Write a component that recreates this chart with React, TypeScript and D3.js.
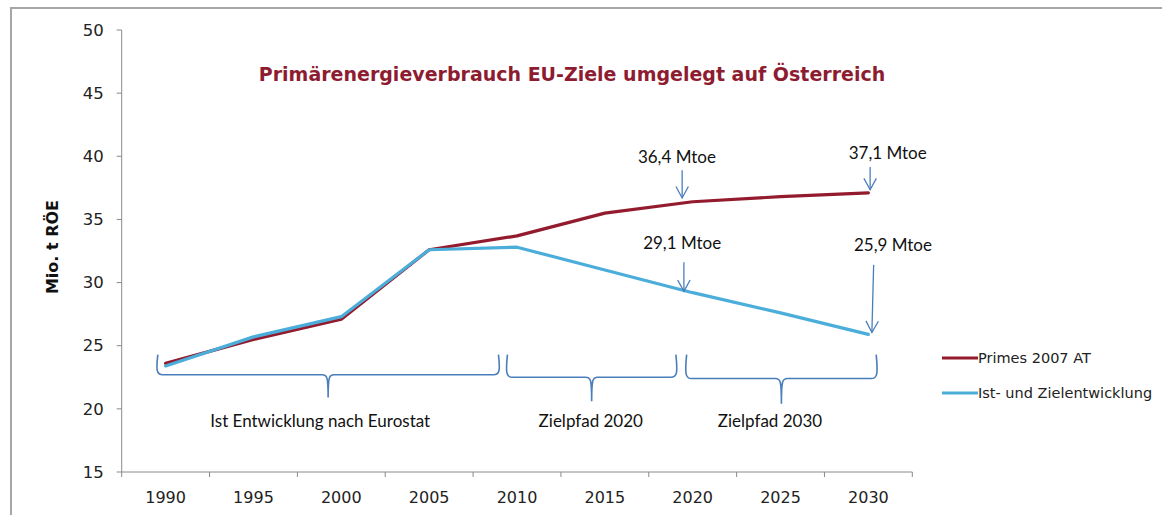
import React from 'react';
import * as d3 from 'd3';

// years on the category axis
const years = ['1990', '1995', '2000', '2005', '2010', '2015', '2020', '2025', '2030'];
// Primes 2007 AT, Mtoe
const primes = [23.6, 25.5, 27.1, 32.6, 33.7, 35.5, 36.4, 36.8, 37.1];
// Ist- und Zielentwicklung, Mtoe
const istZiel = [23.4, 25.7, 27.3, 32.6, 32.8, 31.0, 29.2, 27.6, 25.9];
const yTicks = [15, 20, 25, 30, 35, 40, 45, 50];

// curly braces below the lines (year span, value of hooks / bar / tip)
const braces = [
  { from: 1989.5, to: 2009.0, top: 24.3, bar: 22.7, tip: 20.9, label: 'Ist Entwicklung nach Eurostat', labelAt: 1998.8 },
  { from: 2009.4, to: 2019.1, top: 24.3, bar: 22.5, tip: 20.6, label: 'Zielpfad 2020', labelAt: 2014.2 },
  { from: 2019.6, to: 2030.5, top: 24.3, bar: 22.4, tip: 20.4, label: 'Zielpfad 2030', labelAt: 2024.4 },
];
const braceLabelValue = 18.6;

// arrow call-outs
const callouts = [
  { text: '36,4 Mtoe', tx: 2019.1, ty: 39.45, x1: 2019.4, y1: 38.9, x2: 2019.4, y2: 36.7 },
  { text: '37,1 Mtoe', tx: 2031.1, ty: 39.8, x1: 2030.1, y1: 39.15, x2: 2030.1, y2: 37.35 },
  { text: '29,1 Mtoe', tx: 2019.4, ty: 32.65, x1: 2019.5, y1: 31.6, x2: 2019.5, y2: 29.3 },
  { text: '25,9 Mtoe', tx: 2031.4, ty: 32.5, x1: 2030.3, y1: 31.4, x2: 2030.2, y2: 26.05 },
];

const series = [
  { name: 'Primes 2007 AT', values: primes, color: '#931b2d' },
  { name: 'Ist- und Zielentwicklung', values: istZiel, color: '#4badda' },
];

const W = 1162;
const H = 515;
const left = 121.7;
const right = 912.3;
const top = 30;
const bottom = 472;

const axisColor = '#8a8a8a';
const annoColor = '#4a7ebb';

const App = () => {
  const x = d3.scaleBand().domain(years).range([left, right]).paddingInner(0).paddingOuter(0);
  const y = d3.scaleLinear().domain([15, 50]).range([bottom, top]);
  const step = x.bandwidth();
  // continuous year scale aligned to category centres, for annotations
  const xYear = d3.scaleLinear()
    .domain([1990, 2030])
    .range([x('1990')! + step / 2, x('2030')! + step / 2]);

  const line = d3.line<number>()
    .x((d, i) => x(years[i])! + step / 2)
    .y(d => y(d));

  const bracePath = (b: typeof braces[0]) => {
    const x0 = xYear(b.from), x1 = xYear(b.to), xm = (x0 + x1) / 2;
    const yt = y(b.top), yb = y(b.bar), yp = y(b.tip);
    const r = 6;
    return `M${x0 + 1},${yt} C${x0 - 1},${yb - 4} ${x0},${yb} ${x0 + r},${yb}` +
      ` H${xm - r} C${xm - 1},${yb} ${xm},${yb + 2} ${xm},${yp}` +
      ` C${xm},${yb + 2} ${xm + 1},${yb} ${xm + r},${yb}` +
      ` H${x1 - r} C${x1},${yb} ${x1 + 1},${yb - 4} ${x1 - 1},${yt}`;
  };

  const arrowHead = (c: typeof callouts[0]) => {
    const ax = xYear(c.x2), ay = y(c.y2);
    const bx = xYear(c.x1), by = y(c.y1);
    const ang = Math.atan2(ay - by, ax - bx);
    const len = 13, spread = 0.5;
    const p1 = [ax - len * Math.cos(ang - spread), ay - len * Math.sin(ang - spread)];
    const p2 = [ax - len * Math.cos(ang + spread), ay - len * Math.sin(ang + spread)];
    return `M${p1[0]},${p1[1]} L${ax},${ay} L${p2[0]},${p2[1]}`;
  };

  return (
    <svg width={W} height={H} style={{ position: 'fixed', left: 0, top: 0, background: '#fff' }}
      fontFamily="'DejaVu Sans', Verdana, sans-serif">
      {/* frame */}
      <path d={`M11,${H} V8 H${W}`} fill="none" stroke="#a6a6a6" strokeWidth={2} />

      {/* title */}
      <text x={572} y={81} textAnchor="middle" fontSize={19} fontWeight="bold" fill="#8e1c31">
        Primärenergieverbrauch  EU-Ziele umgelegt auf Österreich
      </text>

      {/* y axis */}
      <line x1={left} x2={left} y1={top} y2={bottom} stroke={axisColor} />
      {yTicks.map(t => (
        <g key={t}>
          <line x1={left - 5} x2={left} y1={y(t)} y2={y(t)} stroke={axisColor} />
          <text x={left - 18} y={y(t)} dy="0.35em" textAnchor="end" fontSize={16.5} fill="#222">{t}</text>
        </g>
      ))}
      <text transform={`translate(58,${(top + bottom) / 2 - 4}) rotate(-90)`} textAnchor="middle"
        fontSize={16} fontWeight="bold" fill="#111">Mio. t RÖE</text>

      {/* x axis */}
      <line x1={left} x2={right} y1={bottom} y2={bottom} stroke={axisColor} />
      {[...years.map(yr => x(yr)!), right].map((v, i) => (
        <line key={i} x1={v} x2={v} y1={bottom} y2={bottom + 5} stroke={axisColor} />
      ))}
      {years.map(yr => (
        <text key={yr} x={x(yr)! + step / 2} y={503} textAnchor="middle" fontSize={16} fill="#222">{yr}</text>
      ))}

      {/* series */}
      {series.map(s => (
        <path key={s.name} d={line(s.values)!} fill="none" stroke={s.color} strokeWidth={3.2}
          strokeLinejoin="round" strokeLinecap="round" />
      ))}

      {/* braces */}
      {braces.map(b => (
        <g key={b.label}>
          <path d={bracePath(b)} fill="none" stroke={annoColor} strokeWidth={1.6} />
          <text x={xYear(b.labelAt)} y={y(braceLabelValue)} textAnchor="middle" fontSize={17}
            fontFamily="Lato, 'Open Sans', sans-serif" fill="#111">{b.label}</text>
        </g>
      ))}

      {/* call-outs */}
      {callouts.map(c => (
        <g key={c.text}>
          <line x1={xYear(c.x1)} y1={y(c.y1)} x2={xYear(c.x2)} y2={y(c.y2)} stroke={annoColor} strokeWidth={1.3} />
          <path d={arrowHead(c)} fill="none" stroke={annoColor} strokeWidth={1.3} />
          <text x={xYear(c.tx)} y={y(c.ty)} textAnchor="middle" fontSize={17}
            fontFamily="Lato, 'Open Sans', sans-serif" fill="#111">{c.text}</text>
        </g>
      ))}

      {/* legend */}
      {series.map((s, i) => (
        <g key={s.name} transform={`translate(942,${358 + i * 35})`}>
          <line x1={0} x2={36} y1={0} y2={0} stroke={s.color} strokeWidth={3.2} />
          <text x={36} y={0} dy="0.35em" fontSize={14.5} fill="#222">{s.name}</text>
        </g>
      ))}
    </svg>
  );
};

export default App;
